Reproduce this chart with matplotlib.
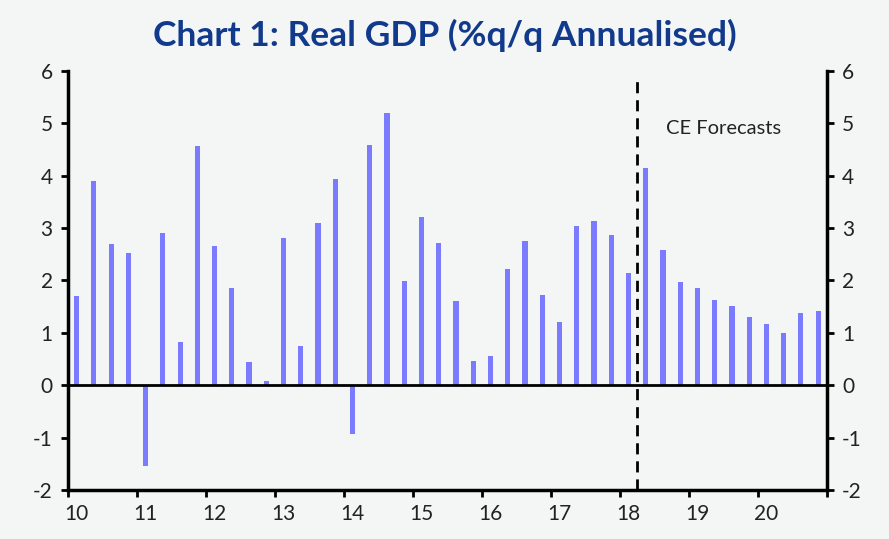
import numpy as np
import matplotlib.pyplot as plt
from matplotlib.ticker import FixedLocator, NullFormatter

plt.rcParams['axes.unicode_minus'] = False

# 季度数据: 2010Q1 - 2020Q4
start_year = 2010
gdp = [1.71, 3.90, 2.70, 2.52,
       -1.54, 2.91, 0.83, 4.56,
       2.65, 1.85, 0.45, 0.08,
       2.81, 0.75, 3.09, 3.94,
       -0.93, 4.58, 5.20, 1.99,
       3.22, 2.72, 1.61, 0.47,
       0.56, 2.21, 2.76, 1.73,
       1.21, 3.04, 3.13, 2.86,
       2.15, 4.14, 2.58, 1.97,
       1.86, 1.62, 1.51, 1.31,
       1.17, 1.00, 1.38, 1.42]
year_labels = ['10', '11', '12', '13', '14', '15', '16', '17', '18', '19', '20']
forecast_start = 2018.25

bg = '#f4f6f6'
x = start_year + np.arange(len(gdp)) * 0.25 + 0.125

fig = plt.figure(figsize=(8.89, 5.39), dpi=100, facecolor=bg)
ax = fig.add_axes([0.0765, 0.0909, 0.8535, 0.7774])
ax.set_facecolor(bg)

ax.bar(x, gdp, width=0.075, color='#7b7bff', zorder=2)
ax.axhline(0, color='black', lw=2, zorder=3)
ax.axvline(forecast_start, ymax=0.975, color='black', lw=2, ls=(0, (4, 2.5)), zorder=4)
ax.text(2019.5, 4.9, 'CE Forecasts', fontsize=14.5, ha='center', va='center',
        color='#222222', family='Lato')

ax.set_xlim(2010, 2021)
ax.set_ylim(-2, 6)

# x轴: 年份边界处刻度, 标签居中在一季度
ax.xaxis.set_major_locator(FixedLocator(np.arange(2010, 2022)))
ax.xaxis.set_major_formatter(NullFormatter())
ax.xaxis.set_minor_locator(FixedLocator(np.arange(2010, 2021) + 0.125))
ax.set_xticklabels(year_labels, minor=True)
ax.tick_params(axis='x', which='major', length=5, width=2, direction='out')
ax.tick_params(axis='x', which='minor', length=0, pad=10, labelsize=15,
               labelcolor='#222222')

ax.set_yticks(range(-2, 7))
ax.tick_params(axis='y', which='major', length=5, width=2, direction='out',
               left=True, right=True, labelleft=True, labelright=True,
               labelsize=15, labelcolor='#222222', pad=6)

for t in ax.get_xticklabels(minor=True) + ax.get_yticklabels():
    t.set_family('Lato')

for side in ['left', 'right', 'bottom']:
    ax.spines[side].set_linewidth(2.5)
ax.spines['top'].set_visible(False)

fig.text(0.5, 0.935, 'Chart 1: Real GDP (%q/q Annualised)', ha='center',
         va='center', fontsize=25.5, fontweight='bold', color='#123a8c',
         family='Lato')

fig.savefig('out.png', dpi=100, facecolor=bg)
